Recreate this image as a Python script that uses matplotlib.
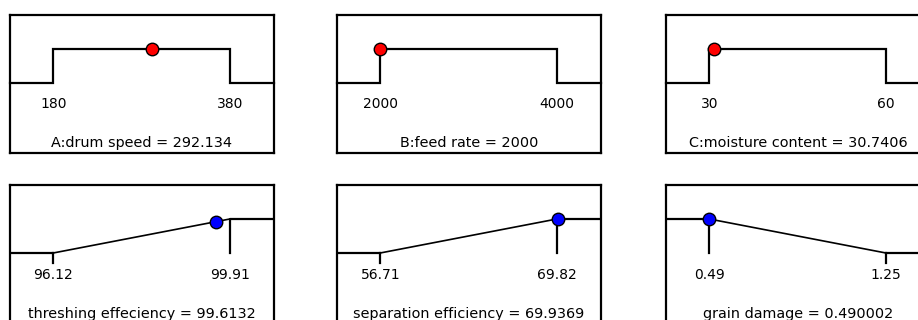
import numpy as np
import matplotlib
matplotlib.use("Agg")
import matplotlib.pyplot as plt

# factors (top row)
factor_names = ["A:drum speed", "B:feed rate", "C:moisture content"]
factor_lo = [180, 2000, 30]
factor_hi = [380, 4000, 60]
factor_val = [292.134, 2000, 30.7406]
factor_txt = ["292.134", "2000", "30.7406"]
factor_ticks = ["180", "380", "2000", "4000", "30", "60"]

# responses (bottom row)
resp_names = ["threshing effeciency", "separation efficiency", "grain damage"]
resp_lo = [96.12, 56.71, 0.49]
resp_hi = [99.91, 69.82, 1.25]
resp_val = [99.6132, 69.9369, 0.490002]
resp_txt = ["99.6132", "69.9369", "0.490002"]
resp_goal = ["max", "max", "min"]
resp_ticks = ["96.12", "99.91", "56.71", "69.82", "0.49", "1.25"]

W, H = 918, 320
fig = plt.figure(figsize=(W / 100, H / 100), dpi=100)
fig.patch.set_facecolor("white")

lw = 1.6
fs = 10
fs_title = 10.4
col_x = [10, 337, 666]
pw, ph = 264, 138


def make_ax(left, top, lo, hi):
    ax = fig.add_axes([left / W, (H - top - ph) / H, pw / W, ph / H])
    r = hi - lo
    ax.set_xlim(lo - 0.245 * r, hi + 0.25 * r)
    ax.set_ylim(-2.06, 2.0)
    ax.set_xticks([])
    ax.set_yticks([])
    for s in ax.spines.values():
        s.set_linewidth(lw)
        s.set_color("black")
    return ax


# top row: factor ranges
for i in range(3):
    lo, hi = factor_lo[i], factor_hi[i]
    ax = make_ax(col_x[i], 15, lo, hi)
    x0, x1 = ax.get_xlim()
    ax.plot([x0, lo, lo, hi, hi, x1], [0, 0, 1, 1, 0, 0], color="black", lw=lw,
            solid_joinstyle="miter", clip_on=False)
    ax.plot(factor_val[i], 1, "o", ms=9, mfc="red", mec="black", mew=1, zorder=5)
    ax.text(lo, -0.62, factor_ticks[2 * i], ha="center", va="center", fontsize=fs)
    ax.text(hi, -0.62, factor_ticks[2 * i + 1], ha="center", va="center", fontsize=fs)
    ax.text((x0 + x1) / 2, -1.76, factor_names[i] + " = " + factor_txt[i],
            ha="center", va="center", fontsize=fs_title)

# bottom row: response desirability ramps
for i in range(3):
    lo, hi = resp_lo[i], resp_hi[i]
    ax = make_ax(col_x[i], 185, lo, hi)
    x0, x1 = ax.get_xlim()
    v = resp_val[i]
    if resp_goal[i] == "max":
        ax.plot([x0, lo], [0, 0], color="black", lw=lw)
        ax.plot([lo, hi], [0, 1], color="black", lw=1.2)
        ax.plot([hi, hi, x1], [0, 1, 1], color="black", lw=lw)
        ax.plot([lo, lo], [0, -0.3], color="black", lw=lw)
        d = np.clip((v - lo) / (hi - lo), 0, 1)
    else:
        ax.plot([x0, lo], [1, 1], color="black", lw=lw)
        ax.plot([lo, lo], [1, 0], color="black", lw=lw)
        ax.plot([lo, hi], [1, 0], color="black", lw=1.2)
        ax.plot([hi, x1], [0, 0], color="black", lw=lw)
        ax.plot([hi, hi], [0, -0.3], color="black", lw=lw)
        d = np.clip((hi - v) / (hi - lo), 0, 1)
    ax.plot(v, d, "o", ms=9, mfc="blue", mec="black", mew=1, zorder=5)
    ax.text(lo, -0.65, resp_ticks[2 * i], ha="center", va="center", fontsize=fs)
    ax.text(hi, -0.65, resp_ticks[2 * i + 1], ha="center", va="center", fontsize=fs)
    ax.text((x0 + x1) / 2, -1.79, resp_names[i] + " = " + resp_txt[i],
            ha="center", va="center", fontsize=fs_title)

fig.savefig("out.png", dpi=100)
